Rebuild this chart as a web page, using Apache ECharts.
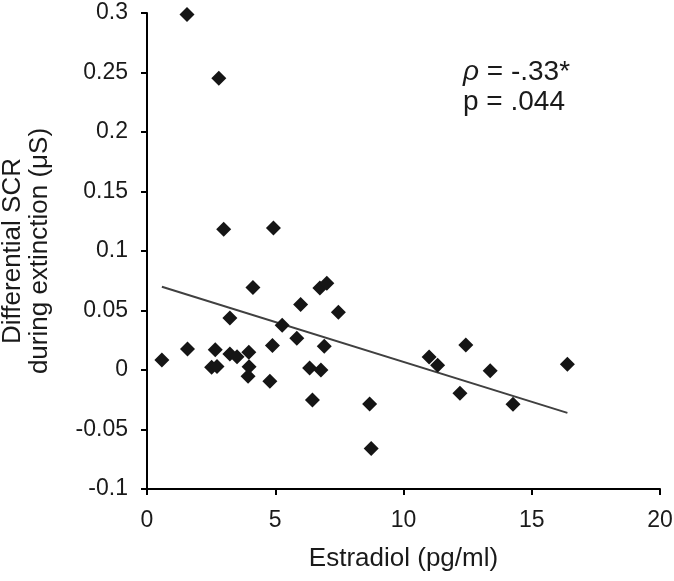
<!DOCTYPE html>
<html>
<head>
<meta charset="utf-8">
<script src="https://cdn.jsdelivr.net/npm/echarts@6/dist/echarts.min.js"></script>
<style>html,body{margin:0;padding:0;background:#fff}#c{width:674px;height:581px}</style>
</head>
<body>
<div id="c"></div>
<script>
var estradiol = [0.58,1.58,2.66,2.52,2.73,3.23,3.23,3.51,3.97,3.98,3.94,4.13,4.79,4.89,5.27,5.84,5.99,6.34,6.45,6.74,7.01,6.78,6.91,7.46,8.68,8.74,1.56,2.80,2.99,4.93,11.0,11.33,12.43,12.20,13.38,14.27,16.39];
var scr = [0.0084,0.0177,0.0171,0.0023,0.0030,0.0438,0.0135,0.0112,0.0149,0.0028,-0.0053,0.0693,-0.0095,0.0205,0.0376,0.0267,0.0550,0.0017,-0.0253,0.0690,0.0730,0.0000,0.0199,0.0485,-0.0286,-0.0659,0.2987,0.2452,0.1183,0.1194,0.0110,0.0040,0.0211,-0.0195,-0.0007,-0.0287,0.0049];
var trendX = [0.58, 16.39];
var trendY = [0.070, -0.036];
var xTicks = [0, 5, 10, 15, 20];
var yTicks = [-0.1, -0.05, 0, 0.05, 0.1, 0.15, 0.2, 0.25, 0.3];
var rhoLine = ['ρ', ' = -.33*'];
var pLine = 'p = .044';

var pts = estradiol.map(function(x, i){ return [x, scr[i]]; });
var trend = trendX.map(function(x, i){ return [x, trendY[i]]; });
var font = 'Liberation Sans, Arial, sans-serif';
var chart = echarts.init(document.getElementById('c'), null, {renderer: 'canvas'});
chart.setOption({
  animation: false,
  backgroundColor: '#fff',
  grid: {left: 147, right: 14, top: 13, bottom: 92, containLabel: false, outerBoundsMode: 'none'},
  xAxis: {
    type: 'value', min: xTicks[0], max: xTicks[xTicks.length-1], interval: 5,
    name: 'Estradiol (pg/ml)', nameLocation: 'middle', nameGap: 57,
    nameTextStyle: {fontFamily: font, fontSize: 26, color: '#1a1a1a'},
    axisLine: {onZero: false, lineStyle: {color: '#000', width: 2}},
    axisTick: {show: true, length: 6, lineStyle: {color: '#000', width: 2}},
    axisLabel: {fontFamily: font, fontSize: 23, color: '#1a1a1a', margin: 20,
      formatter: function(v){ return String(v); }},
    splitLine: {show: false}
  },
  yAxis: {
    type: 'value', min: yTicks[0], max: yTicks[yTicks.length-1], interval: 0.05,
    name: 'Differential SCR\nduring extinction (μS)', nameLocation: 'middle', nameGap: 94,
    nameTextStyle: {fontFamily: font, fontSize: 26, color: '#1a1a1a', lineHeight: 27},
    axisLine: {onZero: false, lineStyle: {color: '#000', width: 2}},
    axisTick: {show: true, length: 6, lineStyle: {color: '#000', width: 2}},
    axisLabel: {fontFamily: font, fontSize: 23, color: '#1a1a1a', margin: 19,
      formatter: function(v){ return String(Math.round(v*100)/100); }},
    splitLine: {show: false}
  },
  series: [
    {type: 'line', data: trend, symbol: 'none', lineStyle: {color: '#404040', width: 2}, z: 2},
    {type: 'scatter', data: pts, symbol: 'diamond', symbolSize: 15, itemStyle: {color: '#151515', opacity: 1}, z: 3}
  ],
  graphic: [
    {type: 'text', left: 463, top: 58, style: {
      text: '{i|' + rhoLine[0] + '}{n|' + rhoLine[1] + '}',
      rich: {
        i: {fontFamily: font, fontSize: 28, fontStyle: 'italic', fill: '#1a1a1a', color: '#1a1a1a'},
        n: {fontFamily: font, fontSize: 28, fill: '#1a1a1a', color: '#1a1a1a'}
      }, font: '28px ' + font, fill: '#1a1a1a'}},
    {type: 'text', left: 463, top: 88, style: {text: pLine, font: '28px ' + font, fill: '#1a1a1a'}}
  ]
});
</script>
</body>
</html>
